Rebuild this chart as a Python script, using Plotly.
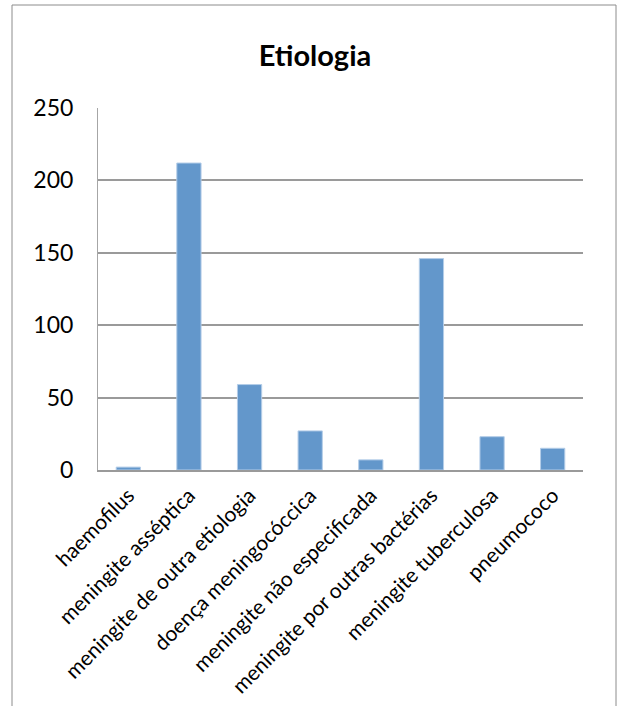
import plotly.graph_objects as go

# Casos por etiologia
categorias = [
    "haemofilus",
    "meningite asséptica",
    "meningite de outra etiologia",
    "doença meningocóccica",
    "meningite não especificada",
    "meningite por outras bactérias",
    "meningite tuberculosa",
    "pneumococo",
]
casos = [2, 212, 59, 27, 7, 146, 23, 15]
y_ticks = [0, 50, 100, 150, 200, 250]

W, H = 617, 706
ML, MR, MT, MB = 98, 34, 108, 236
PW, PH = W - ML - MR, H - MT - MB

FONT = "Lato, 'Open Sans', sans-serif"

fig = go.Figure(
    go.Bar(
        x=categorias,
        y=casos,
        marker=dict(color="#6397CB", line=dict(color="#B4CDE8", width=1)),
        hoverinfo="x+y",
    )
)

# outer chart frame (pixel positions converted to plot-area paper units)
def px_x(p):
    return (p - ML) / PW

def px_y(p):
    return (H - MB - p) / PH

fig.add_shape(
    type="rect", xref="paper", yref="paper",
    x0=px_x(12), x1=px_x(616), y0=px_y(730), y1=px_y(5),
    line=dict(color="#8c8c8c", width=1), fillcolor="rgba(0,0,0,0)", layer="below",
)

fig.update_layout(
    width=W, height=H,
    margin=dict(l=ML, r=MR, t=MT, b=MB, pad=0, autoexpand=False),
    paper_bgcolor="white", plot_bgcolor="white",
    bargap=0.6,
    showlegend=False,
    font=dict(family=FONT, color="black"),
    title=dict(
        text="<b>Etiologia</b>",
        x=(315 / W), xanchor="center",
        y=1 - 56 / H, yanchor="middle",
        font=dict(family=FONT, size=29, color="black"),
    ),
    xaxis=dict(
        automargin=False,
        tickangle=-45,
        tickfont=dict(family=FONT, size=21, color="black"),
        showline=True, linecolor="#9a9a9a", linewidth=2,
        ticks="outside", ticklen=3, tickcolor="white",
        showgrid=False,
    ),
    yaxis=dict(
        automargin=False,
        range=[0, 250],
        tickvals=y_ticks,
        tickfont=dict(family=FONT, size=23, color="black"),
        showline=True, linecolor="#a6a6a6", linewidth=1,
        showgrid=True, gridcolor="#9a9a9a", gridwidth=1.5,
        zeroline=False, ticks="outside", ticklen=19, tickcolor="white",
    ),
)

fig.write_html("out.html")
